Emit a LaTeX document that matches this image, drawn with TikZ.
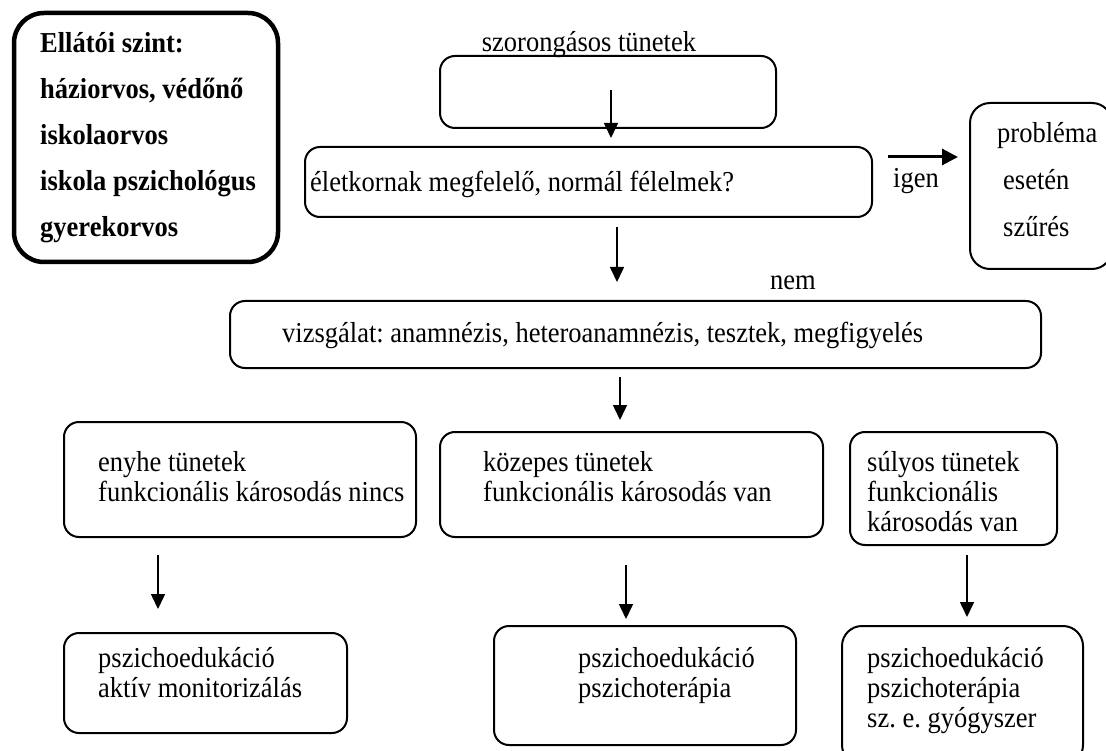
\documentclass[tikz,border=0pt]{standalone}
\usepackage{fontspec}
\usepackage{graphicx}
\setmainfont{Liberation Serif}
\usetikzlibrary{arrows.meta,fit}
\frenchspacing
\newcommand{\vstr}[1]{\scalebox{1}[1.09]{#1}}
\begin{document}
\begin{tikzpicture}[x=1pt,y=-1pt,
  box/.style={draw, line width=2pt, rounded corners=15pt, inner sep=0pt},
  thickbox/.style={draw, line width=4.5pt, rounded corners=30pt, inner sep=0pt},
  txt/.style={anchor=base west, inner sep=0pt, font=\fontsize{26.5}{30}\selectfont\frenchspacing},
  btxt/.style={txt, font=\fontsize{26.5}{30}\selectfont\bfseries\frenchspacing},
  arr/.style={line width=1.6pt, -{Triangle[length=15pt,width=14pt]}},
  thickarr/.style={line width=3pt, -{Triangle[length=16pt,width=16pt]}},
]
\useasboundingbox (0,0) rectangle (1106,751);
\clip (0,0) rectangle (1106,751);

% provider level box
\node[thickbox, fit={(14,13) (278,262)}] (level) {};
\node[btxt] (l1) at (40,53) {\vstr{Ellátói szint:}};
\node[btxt] (l2) at (40,99) {\vstr{háziorvos, védőnő}};
\node[btxt] (l3) at (40,145) {\vstr{iskolaorvos}};
\node[btxt] (l4) at (40,191) {\vstr{iskola pszichológus}};
\node[btxt] (l5) at (40,237) {\vstr{gyerekorvos}};

% top
\node[txt, anchor=base] (sz) at (589,52) {\vstr{szorongásos tünetek}};
\node[box, fit={(440,56) (776,128)}] (top) {};

% question
\node[box, fit={(305,147) (872,217)}] (q) {};
\node[txt] (qt) at (310,192) {\vstr{életkornak megfelelő, normál félelmek?}};

% problem box
\node[box, rounded corners=20pt, fit={(970,103) (1112,269)}] (prob) {};
\node[txt] (p1) at (997,143) {\vstr{probléma}};
\node[txt] (p2) at (1003,190) {\vstr{esetén}};
\node[txt] (p3) at (1003,237) {\vstr{szűrés}};
\node[txt] (igen) at (893,188) {\vstr{igen}};
\node[txt] (nem) at (770,290) {\vstr{nem}};

% examination
\node[box, fit={(230,301) (1041,368)}] (viz) {};
\node[txt] (vt) at (282,343) {\vstr{vizsgálat: anamnézis, heteroanamnézis, tesztek, megfigyelés}};

% severity boxes
\node[box, fit={(64,422) (416,537)}] (mild) {};
\node[txt] (m1) at (98,471) {\vstr{enyhe tünetek}};
\node[txt] (m2) at (98,501) {\vstr{funkcionális károsodás nincs}};

\node[box, fit={(440,432) (823,537)}] (mod) {};
\node[txt] (k1) at (483,471) {\vstr{közepes tünetek}};
\node[txt] (k2) at (483,501) {\vstr{funkcionális károsodás van}};

\node[box, fit={(850,432) (1057,545)}] (sev) {};
\node[txt] (s1) at (867,471) {\vstr{súlyos tünetek}};
\node[txt] (s2) at (867,501) {\vstr{funkcionális}};
\node[txt] (s3) at (867,531) {\vstr{károsodás van}};

% treatment boxes
\node[box, fit={(64,633) (347,733)}] (tm) {};
\node[txt] (tm1) at (98,667) {\vstr{pszichoedukáció}};
\node[txt] (tm2) at (98,697) {\vstr{aktív monitorizálás}};

\node[box, fit={(494,626) (796,745)}] (tk) {};
\node[txt] (tk1) at (578,667) {\vstr{pszichoedukáció}};
\node[txt] (tk2) at (578,697) {\vstr{pszichoterápia}};

\node[box, rounded corners=20pt, fit={(842,626) (1083,765)}] (ts) {};
\node[txt] (ts1) at (867,667) {\vstr{pszichoedukáció}};
\node[txt] (ts2) at (867,697) {\vstr{pszichoterápia}};
\node[txt] (ts3) at (867,727) {\vstr{sz. e. gyógyszer}};

% arrows
\coordinate (a1s) at (611,90);  \coordinate (a1e) at (611,138);
\coordinate (a2s) at (617,227); \coordinate (a2e) at (617,282);
\coordinate (a3s) at (620,377); \coordinate (a3e) at (620,420);
\coordinate (a4s) at (158,555); \coordinate (a4e) at (158,609);
\coordinate (a5s) at (626,565); \coordinate (a5e) at (626,619);
\coordinate (a6s) at (967,555); \coordinate (a6e) at (967,617);
\coordinate (yes1) at (888,157); \coordinate (yes2) at (958,157);
\draw[arr] (a1s) -- (a1e);
\draw[arr] (a2s) -- (a2e);
\draw[arr] (a3s) -- (a3e);
\draw[arr] (a4s) -- (a4e);
\draw[arr] (a5s) -- (a5e);
\draw[arr] (a6s) -- (a6e);
\draw[thickarr] (yes1) -- (yes2);
\end{tikzpicture}
\end{document}
